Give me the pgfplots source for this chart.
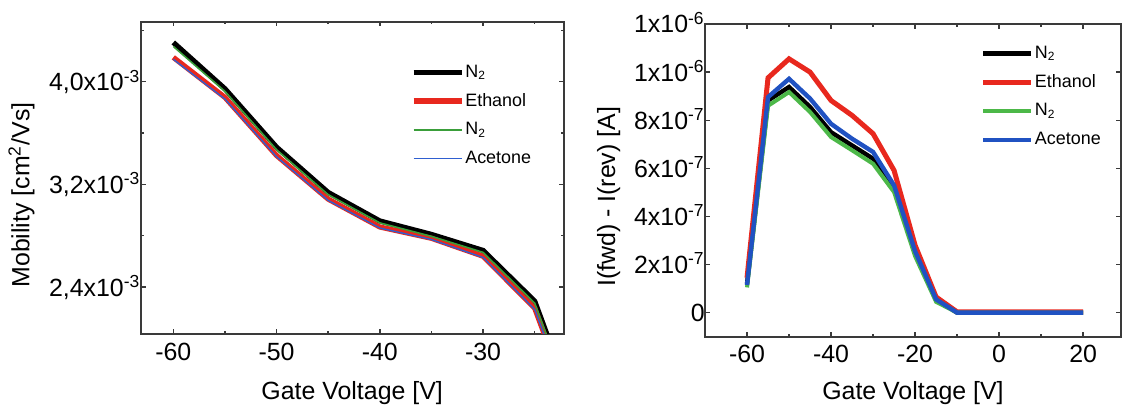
\documentclass[border=0pt]{standalone}
\usepackage{pgfplots}
\pgfplotsset{compat=1.18}
\usepackage{fontspec}
\setmainfont{Liberation Sans}
\definecolor{cred}{HTML}{E8281E}
\definecolor{cgreenL}{HTML}{3A9E3A}
\definecolor{cblueL}{HTML}{2F5FD0}
\definecolor{cgreen}{HTML}{4CB848}
\definecolor{cblue}{HTML}{2052C2}
\definecolor{frame}{HTML}{3A3A3A}
\newcommand{\tlfont}{\fontsize{12.5}{14.5}\selectfont}
\pgfplotsset{
  myax/.style={
    scale only axis, anchor=south west, clip=true,
    axis line style={draw=frame, line width=1bp},
    tick align=inside,
    major tick length=2.4bp, minor tick length=1.4bp,
    every tick/.append style={draw=frame, line width=0.7bp},
    every tick label/.append style={font=\tlfont},
    every axis label/.append style={font=\tlfont},
    legend cell align=left,
    legend image code/.code={\draw[##1] (0bp,0bp) -- (24bp,0bp);},
    legend style={draw=none, fill=none, font=\fontsize{9}{10}\selectfont,
      inner sep=0pt, row sep=4.2bp,
      nodes={inner sep=0.6bp, text height=7bp, text depth=2bp}},
  }
}
\begin{document}
\begin{tikzpicture}
\useasboundingbox (0,0) rectangle (561bp,205.5bp);
% ---------------- left panel ----------------
\begin{axis}[myax,
  at={(70.35bp,38.5bp)}, width=211.45bp, height=156.15bp,
  xmin=-63.16, xmax=-22.2, ymin=2.034, ymax=4.468,
  xtick={-60,-50,-40,-30}, xticklabels={-60,-50,-40,-30},
  minor xtick={-55,-45,-35,-25},
  xticklabel style={font=\tlfont, anchor=base, yshift=-13.3bp},
  ytick={2.4,3.2,4.0},
  yticklabels={{2,4x10\textsuperscript{-3}\hspace{11.3bp}},{3,2x10\textsuperscript{-3}\hspace{11.3bp}},{4,0x10\textsuperscript{-3}\hspace{11.3bp}}},
  minor ytick={2.8,3.6,4.4},
  yticklabel style={font=\tlfont, anchor=base east, inner sep=0pt, yshift=-4.5bp},
  xlabel={Gate Voltage [V]},
  xlabel style={font=\tlfont, at={(axis description cs:0.5,-0.2113)}, anchor=base},
  ylabel={Mobility [cm\textsuperscript{2}/Vs]},
  ylabel style={font=\tlfont, at={(axis description cs:-0.2634,0.445)}, anchor=base},
  legend style={at={(axis description cs:0.638,0.872)}, anchor=north west},
]
\addplot[black, line width=2.6bp] coordinates {(-60,4.306) (-55,3.945) (-50,3.49) (-45,3.137) (-40,2.915) (-35,2.81) (-30,2.685) (-25,2.29) (-20,1.20)};
\addlegendentry{N\textsubscript{2}}
\addplot[cred, line width=2.6bp] coordinates {(-60,4.19) (-55,3.878) (-50,3.425) (-45,3.085) (-40,2.868) (-35,2.78) (-30,2.64) (-25,2.235) (-20,1.15)};
\addlegendentry{Ethanol}
\addplot[cgreenL, line width=0.8bp] coordinates {(-60,4.275) (-55,3.925) (-50,3.47) (-45,3.12) (-40,2.90) (-35,2.795) (-30,2.67) (-25,2.275) (-20,1.19)};
\addlegendentry{N\textsubscript{2}}
\addplot[cblueL, line width=0.7bp] coordinates {(-60,4.175) (-55,3.865) (-50,3.415) (-45,3.075) (-40,2.86) (-35,2.77) (-30,2.63) (-25,2.225) (-20,1.14)};
\addlegendentry{Acetone}
\end{axis}
% ---------------- right panel ----------------
\begin{axis}[myax,
  at={(352.5bp,37.15bp)}, width=208bp, height=156.35bp,
  xmin=-70, xmax=29, ymin=-1, ymax=12,
  xtick={-60,-40,-20,0,20}, xticklabels={-60,-40,-20,0,20},
  minor xtick={-50,-30,-10,10},
  xticklabel style={font=\tlfont, anchor=base, yshift=-12.65bp},
  ytick={0,2,4,6,8,10,12},
  yticklabels={{0\hspace{4bp}},
    {2x10\textsuperscript{-7}\hspace{9.5bp}},
    {4x10\textsuperscript{-7}\hspace{9.5bp}},
    {6x10\textsuperscript{-7}\hspace{9.5bp}},
    {8x10\textsuperscript{-7}\hspace{9.5bp}},
    {1x10\textsuperscript{-6}\hspace{9.5bp}},
    {1x10\textsuperscript{-6}\hspace{9.5bp}}},
  yticklabel style={font=\tlfont, anchor=base east, inner sep=0pt, yshift=-4.5bp},
  xlabel={Gate Voltage [V]},
  xlabel style={font=\tlfont, at={(axis description cs:0.5,-0.2024)}, anchor=base},
  ylabel={I(fwd) - I(rev) [A]},
  ylabel style={font=\tlfont, at={(axis description cs:-0.2163,0.447)}, anchor=base},
  legend style={at={(axis description cs:0.662,0.94)}, anchor=north west},
]
\addplot[black, line width=2.2bp] coordinates {(-60,1.2) (-55,8.82) (-50,9.38) (-45,8.55) (-40,7.5) (-35,6.95) (-30,6.4) (-25,5.22) (-20,2.5) (-15,0.55) (-10,0) (-5,0) (0,0) (5,0) (10,0) (15,0) (20,0)};
\addlegendentry{N\textsubscript{2}}
\addplot[cred, line width=2.5bp] coordinates {(-60,1.45) (-55,9.76) (-50,10.55) (-45,10.0) (-40,8.82) (-35,8.2) (-30,7.44) (-25,5.91) (-20,2.8) (-15,0.65) (-10,0.03) (-5,0.03) (0,0.03) (5,0.03) (10,0.03) (15,0.03) (20,0.03)};
\addlegendentry{Ethanol}
\addplot[cgreen, line width=2bp] coordinates {(-60,1.05) (-55,8.6) (-50,9.17) (-45,8.34) (-40,7.3) (-35,6.75) (-30,6.19) (-25,5.01) (-20,2.35) (-15,0.45) (-10,0) (-5,0) (0,0) (5,0) (10,0) (15,0) (20,0)};
\addlegendentry{N\textsubscript{2}}
\addplot[cblue, line width=2.2bp] coordinates {(-60,1.15) (-55,8.96) (-50,9.72) (-45,8.9) (-40,7.85) (-35,7.23) (-30,6.68) (-25,5.29) (-20,2.55) (-15,0.55) (-10,0) (-5,0) (0,0) (5,0) (10,0) (15,0) (20,0)};
\addlegendentry{Acetone}
\end{axis}
\end{tikzpicture}
\end{document}
